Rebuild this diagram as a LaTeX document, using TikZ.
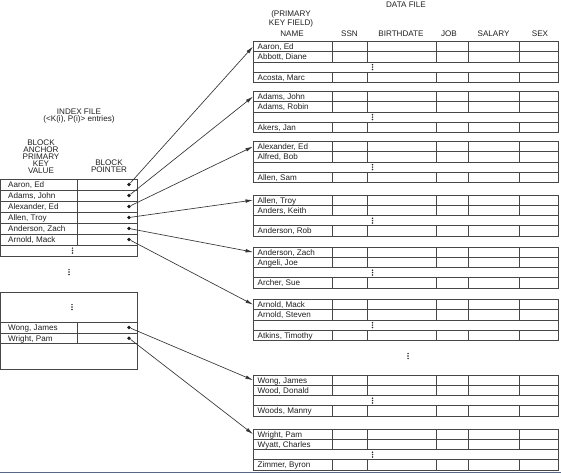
\documentclass[tikz,border=0pt]{standalone}
\usepackage{fontspec}
\setmainfont{Liberation Sans}
\usetikzlibrary{arrows.meta}

% Data block: #1 id, #2 top edge, #3 first key, #4 second key, #5 last key
\newcommand\datablock[5]{%
  \draw[tbl] (253,#2) rectangle (558,{#2+41});
  \foreach \r in {10.25,20.5,30.75} {\draw[tbl] (253,{#2+\r}) -- (558,{#2+\r});}
  \foreach \c in {332,367,436,468,519} {
    \draw[tbl] (\c,#2) -- (\c,{#2+20.5});
    \draw[tbl] (\c,{#2+30.75}) -- (\c,{#2+41});
  }
  \node[txt, anchor=base west] (#1a) at (257.5,{#2+8.1}) {#3};
  \node[txt, anchor=base west] (#1b) at (257.5,{#2+18.3}) {#4};
  \node[txt, anchor=base west] (#1c) at (257.5,{#2+38.9}) {#5};
  \vdot{372.5}{#2+25.6}
  \coordinate (#1) at (253,{#2+5.1});
}
% Small vertical ellipsis
\newcommand\vdot[2]{%
  \foreach \k in {-2.4,0,2.4} {\fill[ink] (#1,{#2+\k}) circle (0.85);}
}

\tikzset{
  ink/.style={black!85},
  tbl/.style={draw=black!72, line width=0.7pt},
  txt/.style={inner sep=0pt, text=black!88, font=\fontsize{8.1}{7.2}\selectfont},
  head/.style={txt, align=center},
  bullet/.style={circle, fill=black!90, inner sep=0pt, minimum size=3.6pt},
  ptr/.style={draw=black!80, line width=0.65pt, -{Latex[length=7.5pt,width=3.6pt]}}
}

\begin{document}
\begin{tikzpicture}[x=1pt, y=-1pt]
\useasboundingbox (0,0) rectangle (561,473);

% ---------- headings ----------
\node[head] (datafile) at (406,4.5) {DATA FILE};
\node[head] (pkfield) at (291,19) {(PRIMARY\\KEY FIELD)};
\node[head] (hname) at (292,34) {NAME};
\node[head] (hssn) at (349.5,34) {SSN};
\node[head] (hbirth) at (401,34) {BIRTHDATE};
\node[head] (hjob) at (449,34) {JOB};
\node[head] (hsal) at (493.5,34) {SALARY};
\node[head] (hsex) at (540,34) {SEX};

\node[head] (indexfile) at (79,116) {INDEX FILE\\(<K(i), P(i)> entries)};
\node[head] (anchorkey) at (41,156.7) {BLOCK\\ANCHOR\\PRIMARY\\KEY\\VALUE};
\node[head] (blockptr) at (109,166.5) {BLOCK\\POINTER};

% ---------- index file, first part ----------
\draw[tbl] (0.5,179) rectangle (137,256);
\foreach \y in {190,201,212,223,234,245} {\draw[tbl] (0.5,\y) -- (137,\y);}
\draw[tbl] (77,179) -- (77,245);
\foreach \n/\k [count=\i] in {{Aaron, Ed}/0, {Adams, John}/1, {Alexander, Ed}/2,
                              {Allen, Troy}/3, {Anderson, Zach}/4, {Arnold, Mack}/5} {
  \node[txt, anchor=base west] (ik\i) at (8,{187.5+11*\k}) {\n};
  \node[bullet] (i\i) at (129,{184.5+11*\k}) {};
}
\vdot{72.5}{250.5}

\vdot{69}{272}

% ---------- index file, last part ----------
\draw[tbl] (0.5,292) rectangle (137,369);
\draw[tbl] (0.5,322) -- (137,322);
\draw[tbl] (0.5,333) -- (137,333);
\draw[tbl] (0.5,343.5) -- (137,343.5);
\draw[tbl] (77,322) -- (77,343.5);
\vdot{72}{307}
\node[txt, anchor=base west] (wk1) at (8,330.5) {Wong, James};
\node[txt, anchor=base west] (wk2) at (8,341.2) {Wright, Pam};
\node[bullet] (w1) at (129,327.5) {};
\node[bullet] (w2) at (129,338.2) {};

% ---------- data file ----------
\datablock{d1}{41.5}{Aaron, Ed}{Abbott, Diane}{Acosta, Marc}
\datablock{d2}{91.5}{Adams, John}{Adams, Robin}{Akers, Jan}
\datablock{d3}{141.5}{Alexander, Ed}{Alfred, Bob}{Allen, Sam}
\datablock{d4}{195}{Allen, Troy}{Anders, Keith}{Anderson, Rob}
\datablock{d5}{247}{Anderson, Zach}{Angeli, Joe}{Archer, Sue}
\datablock{d6}{299.5}{Arnold, Mack}{Arnold, Steven}{Atkins, Timothy}
\vdot{408}{356}
\datablock{d7}{375}{Wong, James}{Wood, Donald}{Woods, Manny}
\datablock{d8}{429}{Wright, Pam}{Wyatt, Charles}{Zimmer, Byron}

% ---------- block pointers ----------
\foreach \i in {1,...,6} {\draw[ptr] (i\i) -- (d\i);}
\draw[ptr] (w1) -- (d7);
\draw[ptr] (w2) -- (d8);

% frame rule along the foot
\draw[line width=1.4pt, color={rgb,255:red,85;green,105;blue,135}] (0,472.3) -- (561,472.3);
\end{tikzpicture}
\end{document}
